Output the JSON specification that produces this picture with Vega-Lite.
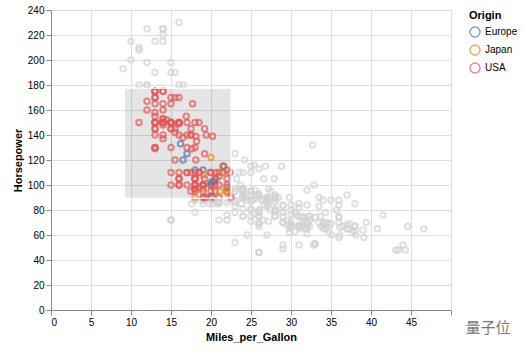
{
  "$schema": "https://vega.github.io/schema/vega-lite/v6.json",
  "width": 400,
  "height": 300,
  "padding": {"left": 12, "top": 5, "right": 5, "bottom": 5},
  "config": {"font": "Liberation Sans"},
  "datasets": {
    "cars": [
      {"mpg":18,"hp":130,"Origin":"USA"},{"mpg":15,"hp":165,"Origin":"USA"},{"mpg":18,"hp":150,"Origin":"USA"},{"mpg":16,"hp":150,"Origin":"USA"},{"mpg":17,"hp":140,"Origin":"USA"},{"mpg":15,"hp":198,"Origin":"USA"},{"mpg":14,"hp":220,"Origin":"USA"},{"mpg":14,"hp":215,"Origin":"USA"},{"mpg":14,"hp":225,"Origin":"USA"},{"mpg":15,"hp":190,"Origin":"USA"},{"mpg":15,"hp":170,"Origin":"USA"},{"mpg":14,"hp":160,"Origin":"USA"},{"mpg":15,"hp":150,"Origin":"USA"},{"mpg":14,"hp":225,"Origin":"USA"},{"mpg":24,"hp":95,"Origin":"Japan"},{"mpg":22,"hp":95,"Origin":"USA"},{"mpg":18,"hp":97,"Origin":"USA"},{"mpg":21,"hp":85,"Origin":"USA"},{"mpg":27,"hp":88,"Origin":"Japan"},{"mpg":26,"hp":46,"Origin":"Europe"},{"mpg":25,"hp":87,"Origin":"Europe"},{"mpg":24,"hp":90,"Origin":"Europe"},{"mpg":25,"hp":95,"Origin":"Europe"},{"mpg":26,"hp":113,"Origin":"Europe"},{"mpg":21,"hp":90,"Origin":"USA"},{"mpg":10,"hp":215,"Origin":"USA"},{"mpg":10,"hp":200,"Origin":"USA"},{"mpg":11,"hp":210,"Origin":"USA"},{"mpg":9,"hp":193,"Origin":"USA"},
      {"mpg":27,"hp":88,"Origin":"Japan"},{"mpg":28,"hp":90,"Origin":"USA"},{"mpg":25,"hp":95,"Origin":"Japan"},{"mpg":19,"hp":100,"Origin":"USA"},{"mpg":16,"hp":105,"Origin":"USA"},{"mpg":17,"hp":100,"Origin":"USA"},{"mpg":19,"hp":88,"Origin":"USA"},{"mpg":18,"hp":100,"Origin":"USA"},{"mpg":14,"hp":165,"Origin":"USA"},{"mpg":14,"hp":175,"Origin":"USA"},{"mpg":14,"hp":153,"Origin":"USA"},{"mpg":14,"hp":150,"Origin":"USA"},{"mpg":12,"hp":180,"Origin":"USA"},{"mpg":13,"hp":170,"Origin":"USA"},{"mpg":13,"hp":175,"Origin":"USA"},{"mpg":18,"hp":110,"Origin":"USA"},{"mpg":22,"hp":72,"Origin":"USA"},{"mpg":19,"hp":100,"Origin":"USA"},{"mpg":18,"hp":88,"Origin":"USA"},{"mpg":23,"hp":86,"Origin":"USA"},{"mpg":28,"hp":90,"Origin":"Europe"},{"mpg":30,"hp":70,"Origin":"Europe"},{"mpg":30,"hp":76,"Origin":"Europe"},{"mpg":31,"hp":65,"Origin":"Japan"},{"mpg":35,"hp":69,"Origin":"Japan"},{"mpg":27,"hp":60,"Origin":"Europe"},{"mpg":26,"hp":70,"Origin":"USA"},
      {"mpg":24,"hp":95,"Origin":"Japan"},{"mpg":25,"hp":80,"Origin":"USA"},{"mpg":23,"hp":54,"Origin":"Europe"},{"mpg":20,"hp":90,"Origin":"USA"},{"mpg":21,"hp":86,"Origin":"USA"},{"mpg":13,"hp":165,"Origin":"USA"},{"mpg":14,"hp":175,"Origin":"USA"},{"mpg":15,"hp":150,"Origin":"USA"},{"mpg":14,"hp":153,"Origin":"USA"},{"mpg":17,"hp":150,"Origin":"USA"},{"mpg":11,"hp":208,"Origin":"USA"},{"mpg":13,"hp":155,"Origin":"USA"},{"mpg":12,"hp":160,"Origin":"USA"},{"mpg":13,"hp":190,"Origin":"USA"},{"mpg":19,"hp":97,"Origin":"Japan"},{"mpg":15,"hp":150,"Origin":"USA"},{"mpg":13,"hp":130,"Origin":"USA"},{"mpg":13,"hp":140,"Origin":"USA"},{"mpg":14,"hp":150,"Origin":"USA"},{"mpg":18,"hp":112,"Origin":"Europe"},{"mpg":22,"hp":76,"Origin":"Europe"},{"mpg":21,"hp":87,"Origin":"Europe"},{"mpg":26,"hp":69,"Origin":"Europe"},{"mpg":22,"hp":86,"Origin":"USA"},{"mpg":28,"hp":92,"Origin":"Japan"},{"mpg":23,"hp":97,"Origin":"Japan"},{"mpg":28,"hp":80,"Origin":"USA"},{"mpg":27,"hp":88,"Origin":"Japan"},
      {"mpg":13,"hp":175,"Origin":"USA"},{"mpg":14,"hp":150,"Origin":"USA"},{"mpg":13,"hp":145,"Origin":"USA"},{"mpg":14,"hp":137,"Origin":"USA"},{"mpg":15,"hp":150,"Origin":"USA"},{"mpg":12,"hp":198,"Origin":"USA"},{"mpg":13,"hp":150,"Origin":"USA"},{"mpg":13,"hp":158,"Origin":"USA"},{"mpg":14,"hp":150,"Origin":"USA"},{"mpg":13,"hp":215,"Origin":"USA"},{"mpg":12,"hp":225,"Origin":"USA"},{"mpg":13,"hp":175,"Origin":"USA"},{"mpg":18,"hp":105,"Origin":"USA"},{"mpg":16,"hp":100,"Origin":"USA"},{"mpg":18,"hp":100,"Origin":"USA"},{"mpg":18,"hp":88,"Origin":"USA"},{"mpg":23,"hp":95,"Origin":"USA"},{"mpg":26,"hp":46,"Origin":"Europe"},{"mpg":11,"hp":150,"Origin":"USA"},{"mpg":12,"hp":167,"Origin":"USA"},{"mpg":13,"hp":170,"Origin":"USA"},{"mpg":12,"hp":180,"Origin":"USA"},{"mpg":18,"hp":100,"Origin":"USA"},{"mpg":20,"hp":88,"Origin":"Japan"},{"mpg":21,"hp":72,"Origin":"USA"},{"mpg":22,"hp":94,"Origin":"Japan"},{"mpg":18,"hp":90,"Origin":"Japan"},{"mpg":19,"hp":85,"Origin":"USA"},{"mpg":21,"hp":107,"Origin":"USA"},{"mpg":26,"hp":90,"Origin":"Europe"},{"mpg":15,"hp":145,"Origin":"USA"},{"mpg":16,"hp":230,"Origin":"USA"},{"mpg":29,"hp":49,"Origin":"Europe"},{"mpg":24,"hp":75,"Origin":"Europe"},{"mpg":20,"hp":91,"Origin":"Europe"},{"mpg":19,"hp":112,"Origin":"Europe"},{"mpg":15,"hp":150,"Origin":"USA"},{"mpg":24,"hp":110,"Origin":"Europe"},{"mpg":20,"hp":122,"Origin":"Japan"},{"mpg":11,"hp":180,"Origin":"USA"},
      {"mpg":20,"hp":95,"Origin":"USA"},{"mpg":21,"hp":100,"Origin":"USA"},{"mpg":19,"hp":100,"Origin":"USA"},{"mpg":15,"hp":100,"Origin":"USA"},{"mpg":31,"hp":67,"Origin":"Japan"},{"mpg":26,"hp":80,"Origin":"USA"},{"mpg":32,"hp":65,"Origin":"Japan"},{"mpg":25,"hp":75,"Origin":"USA"},{"mpg":16,"hp":100,"Origin":"USA"},{"mpg":16,"hp":110,"Origin":"USA"},{"mpg":18,"hp":105,"Origin":"USA"},{"mpg":16,"hp":140,"Origin":"USA"},{"mpg":13,"hp":150,"Origin":"USA"},{"mpg":14,"hp":150,"Origin":"USA"},{"mpg":14,"hp":140,"Origin":"USA"},{"mpg":14,"hp":150,"Origin":"USA"},{"mpg":29,"hp":83,"Origin":"Europe"},{"mpg":26,"hp":67,"Origin":"Europe"},{"mpg":26,"hp":78,"Origin":"Europe"},{"mpg":31,"hp":52,"Origin":"Japan"},{"mpg":32,"hp":61,"Origin":"Japan"},{"mpg":28,"hp":75,"Origin":"USA"},{"mpg":24,"hp":75,"Origin":"Europe"},{"mpg":26,"hp":75,"Origin":"Europe"},{"mpg":24,"hp":97,"Origin":"Japan"},{"mpg":26,"hp":93,"Origin":"Japan"},{"mpg":31,"hp":67,"Origin":"Europe"},
      {"mpg":19,"hp":95,"Origin":"USA"},{"mpg":18,"hp":105,"Origin":"USA"},{"mpg":15,"hp":72,"Origin":"USA"},{"mpg":15,"hp":72,"Origin":"USA"},{"mpg":16,"hp":170,"Origin":"USA"},{"mpg":15,"hp":145,"Origin":"USA"},{"mpg":16,"hp":150,"Origin":"USA"},{"mpg":14,"hp":148,"Origin":"USA"},{"mpg":17,"hp":110,"Origin":"USA"},{"mpg":16,"hp":105,"Origin":"USA"},{"mpg":15,"hp":110,"Origin":"USA"},{"mpg":18,"hp":95,"Origin":"USA"},{"mpg":21,"hp":110,"Origin":"USA"},{"mpg":20,"hp":110,"Origin":"USA"},{"mpg":13,"hp":129,"Origin":"USA"},{"mpg":29,"hp":75,"Origin":"Japan"},{"mpg":23,"hp":83,"Origin":"USA"},{"mpg":20,"hp":100,"Origin":"USA"},{"mpg":23,"hp":78,"Origin":"USA"},{"mpg":24,"hp":96,"Origin":"Japan"},{"mpg":25,"hp":71,"Origin":"Europe"},{"mpg":24,"hp":97,"Origin":"Japan"},{"mpg":18,"hp":97,"Origin":"USA"},{"mpg":29,"hp":70,"Origin":"Europe"},{"mpg":19,"hp":90,"Origin":"USA"},{"mpg":23,"hp":95,"Origin":"Europe"},{"mpg":23,"hp":88,"Origin":"Europe"},{"mpg":22,"hp":98,"Origin":"Europe"},{"mpg":25,"hp":115,"Origin":"Europe"},{"mpg":33,"hp":53,"Origin":"Japan"},{"mpg":28,"hp":86,"Origin":"Europe"},{"mpg":25,"hp":81,"Origin":"Europe"},{"mpg":25,"hp":92,"Origin":"USA"},{"mpg":26,"hp":79,"Origin":"USA"},{"mpg":27,"hp":83,"Origin":"Europe"},
      {"mpg":17.5,"hp":140,"Origin":"USA"},{"mpg":16,"hp":150,"Origin":"USA"},{"mpg":15.5,"hp":120,"Origin":"USA"},{"mpg":14.5,"hp":152,"Origin":"USA"},{"mpg":22,"hp":100,"Origin":"USA"},{"mpg":22,"hp":105,"Origin":"USA"},{"mpg":24,"hp":81,"Origin":"USA"},{"mpg":22.5,"hp":90,"Origin":"USA"},{"mpg":29,"hp":52,"Origin":"USA"},{"mpg":24.5,"hp":60,"Origin":"USA"},{"mpg":29,"hp":70,"Origin":"Europe"},{"mpg":33,"hp":53,"Origin":"Japan"},{"mpg":20,"hp":100,"Origin":"USA"},{"mpg":18,"hp":78,"Origin":"USA"},{"mpg":18.5,"hp":110,"Origin":"USA"},{"mpg":17.5,"hp":95,"Origin":"USA"},{"mpg":29.5,"hp":71,"Origin":"Europe"},{"mpg":32,"hp":70,"Origin":"Japan"},{"mpg":28,"hp":75,"Origin":"Japan"},{"mpg":26.5,"hp":72,"Origin":"USA"},{"mpg":20,"hp":102,"Origin":"Europe"},{"mpg":13,"hp":150,"Origin":"USA"},{"mpg":19,"hp":88,"Origin":"Europe"},{"mpg":19,"hp":108,"Origin":"Japan"},{"mpg":16.5,"hp":120,"Origin":"Europe"},{"mpg":16.5,"hp":180,"Origin":"USA"},{"mpg":13,"hp":145,"Origin":"USA"},{"mpg":13,"hp":130,"Origin":"USA"},{"mpg":13,"hp":150,"Origin":"USA"},
      {"mpg":31.5,"hp":68,"Origin":"Japan"},{"mpg":30,"hp":80,"Origin":"USA"},{"mpg":36,"hp":58,"Origin":"Europe"},{"mpg":25.5,"hp":96,"Origin":"USA"},{"mpg":33.5,"hp":70,"Origin":"Japan"},{"mpg":17.5,"hp":145,"Origin":"USA"},{"mpg":17,"hp":110,"Origin":"USA"},{"mpg":15.5,"hp":145,"Origin":"USA"},{"mpg":15,"hp":130,"Origin":"USA"},{"mpg":17.5,"hp":110,"Origin":"USA"},{"mpg":20.5,"hp":105,"Origin":"USA"},{"mpg":19,"hp":100,"Origin":"USA"},{"mpg":18.5,"hp":98,"Origin":"USA"},{"mpg":16,"hp":180,"Origin":"USA"},{"mpg":15.5,"hp":170,"Origin":"USA"},{"mpg":15.5,"hp":190,"Origin":"USA"},{"mpg":16,"hp":149,"Origin":"USA"},{"mpg":29,"hp":78,"Origin":"Europe"},{"mpg":24.5,"hp":88,"Origin":"USA"},{"mpg":26,"hp":75,"Origin":"Japan"},{"mpg":25.5,"hp":89,"Origin":"USA"},{"mpg":30.5,"hp":63,"Origin":"USA"},{"mpg":33.5,"hp":83,"Origin":"USA"},{"mpg":30,"hp":67,"Origin":"Japan"},{"mpg":30.5,"hp":78,"Origin":"Europe"},{"mpg":22,"hp":97,"Origin":"Japan"},{"mpg":21.5,"hp":110,"Origin":"Europe"},{"mpg":21.5,"hp":110,"Origin":"Japan"},
      {"mpg":43.1,"hp":48,"Origin":"Europe"},{"mpg":36.1,"hp":66,"Origin":"USA"},{"mpg":32.8,"hp":52,"Origin":"Japan"},{"mpg":39.4,"hp":70,"Origin":"Japan"},{"mpg":36.1,"hp":60,"Origin":"Japan"},{"mpg":19.9,"hp":110,"Origin":"USA"},{"mpg":19.4,"hp":140,"Origin":"USA"},{"mpg":20.2,"hp":139,"Origin":"USA"},{"mpg":19.2,"hp":105,"Origin":"USA"},{"mpg":20.5,"hp":95,"Origin":"USA"},{"mpg":20.2,"hp":85,"Origin":"USA"},{"mpg":25.1,"hp":88,"Origin":"USA"},{"mpg":20.5,"hp":100,"Origin":"USA"},{"mpg":19.4,"hp":90,"Origin":"USA"},{"mpg":20.6,"hp":105,"Origin":"USA"},{"mpg":20.8,"hp":85,"Origin":"USA"},{"mpg":18.6,"hp":110,"Origin":"USA"},{"mpg":18.1,"hp":120,"Origin":"USA"},{"mpg":19.2,"hp":145,"Origin":"USA"},{"mpg":17.7,"hp":165,"Origin":"USA"},{"mpg":18.1,"hp":139,"Origin":"USA"},{"mpg":17.5,"hp":140,"Origin":"USA"},{"mpg":30,"hp":68,"Origin":"USA"},{"mpg":27.5,"hp":95,"Origin":"Japan"},{"mpg":27.2,"hp":97,"Origin":"Japan"},{"mpg":30.9,"hp":75,"Origin":"USA"},{"mpg":21.1,"hp":95,"Origin":"Japan"},{"mpg":23.2,"hp":105,"Origin":"Japan"},{"mpg":23.8,"hp":85,"Origin":"USA"},{"mpg":23.9,"hp":97,"Origin":"Japan"},{"mpg":20.3,"hp":103,"Origin":"Europe"},{"mpg":17,"hp":125,"Origin":"Europe"},{"mpg":21.6,"hp":115,"Origin":"Europe"},{"mpg":16.2,"hp":133,"Origin":"Europe"},{"mpg":31.5,"hp":71,"Origin":"Europe"},{"mpg":29.5,"hp":68,"Origin":"Japan"},
      {"mpg":21.5,"hp":115,"Origin":"USA"},{"mpg":19.8,"hp":85,"Origin":"USA"},{"mpg":22.3,"hp":88,"Origin":"USA"},{"mpg":20.2,"hp":90,"Origin":"USA"},{"mpg":20.6,"hp":110,"Origin":"USA"},{"mpg":17,"hp":130,"Origin":"USA"},{"mpg":17.6,"hp":129,"Origin":"USA"},{"mpg":16.5,"hp":138,"Origin":"USA"},{"mpg":18.2,"hp":135,"Origin":"USA"},{"mpg":16.9,"hp":155,"Origin":"USA"},{"mpg":15.5,"hp":142,"Origin":"USA"},{"mpg":19.2,"hp":125,"Origin":"USA"},{"mpg":18.5,"hp":150,"Origin":"USA"},{"mpg":31.9,"hp":71,"Origin":"Europe"},{"mpg":34.1,"hp":65,"Origin":"Japan"},{"mpg":35.7,"hp":80,"Origin":"USA"},{"mpg":27.4,"hp":80,"Origin":"USA"},{"mpg":25.4,"hp":77,"Origin":"Europe"},{"mpg":23,"hp":125,"Origin":"USA"},{"mpg":27.2,"hp":71,"Origin":"Europe"},{"mpg":23.9,"hp":90,"Origin":"USA"},{"mpg":34.2,"hp":70,"Origin":"USA"},{"mpg":34.5,"hp":70,"Origin":"USA"},{"mpg":31.8,"hp":65,"Origin":"Japan"},{"mpg":37.3,"hp":69,"Origin":"Europe"},{"mpg":28.4,"hp":90,"Origin":"USA"},{"mpg":28.8,"hp":115,"Origin":"USA"},{"mpg":26.8,"hp":115,"Origin":"USA"},{"mpg":33.5,"hp":90,"Origin":"USA"},
      {"mpg":41.5,"hp":76,"Origin":"Europe"},{"mpg":38.1,"hp":60,"Origin":"Japan"},{"mpg":32.1,"hp":70,"Origin":"USA"},{"mpg":37.2,"hp":65,"Origin":"Japan"},{"mpg":28,"hp":90,"Origin":"USA"},{"mpg":26.4,"hp":88,"Origin":"USA"},{"mpg":24.3,"hp":90,"Origin":"USA"},{"mpg":19.1,"hp":90,"Origin":"USA"},{"mpg":34.3,"hp":78,"Origin":"Europe"},{"mpg":29.8,"hp":90,"Origin":"Japan"},{"mpg":31.3,"hp":75,"Origin":"Japan"},{"mpg":37,"hp":92,"Origin":"Japan"},{"mpg":32.2,"hp":75,"Origin":"Japan"},{"mpg":46.6,"hp":65,"Origin":"Japan"},{"mpg":27.9,"hp":105,"Origin":"USA"},{"mpg":40.8,"hp":65,"Origin":"Japan"},{"mpg":44.3,"hp":48,"Origin":"Europe"},{"mpg":43.4,"hp":48,"Origin":"Europe"},{"mpg":36.4,"hp":67,"Origin":"Europe"},{"mpg":30,"hp":67,"Origin":"Europe"},{"mpg":44.6,"hp":67,"Origin":"Japan"},{"mpg":33.8,"hp":67,"Origin":"Japan"},{"mpg":29.8,"hp":62,"Origin":"Europe"},{"mpg":32.7,"hp":132,"Origin":"Japan"},{"mpg":23.7,"hp":100,"Origin":"Japan"},{"mpg":35,"hp":88,"Origin":"Europe"},{"mpg":32.4,"hp":72,"Origin":"Japan"},
      {"mpg":27.2,"hp":84,"Origin":"USA"},{"mpg":26.6,"hp":84,"Origin":"USA"},{"mpg":25.8,"hp":92,"Origin":"USA"},{"mpg":23.5,"hp":110,"Origin":"USA"},{"mpg":30,"hp":84,"Origin":"USA"},{"mpg":39.1,"hp":58,"Origin":"Japan"},{"mpg":39,"hp":64,"Origin":"USA"},{"mpg":35.1,"hp":60,"Origin":"Japan"},{"mpg":32.3,"hp":67,"Origin":"Japan"},{"mpg":37,"hp":65,"Origin":"Japan"},{"mpg":37.7,"hp":62,"Origin":"Japan"},{"mpg":34.1,"hp":68,"Origin":"Japan"},{"mpg":34.7,"hp":63,"Origin":"USA"},{"mpg":34.4,"hp":65,"Origin":"USA"},{"mpg":29.9,"hp":65,"Origin":"USA"},{"mpg":33,"hp":74,"Origin":"Europe"},{"mpg":33.7,"hp":75,"Origin":"Japan"},{"mpg":32.4,"hp":75,"Origin":"Japan"},{"mpg":32.9,"hp":100,"Origin":"Japan"},{"mpg":31.6,"hp":74,"Origin":"Japan"},{"mpg":28.1,"hp":80,"Origin":"Europe"},{"mpg":30.7,"hp":76,"Origin":"Europe"},{"mpg":25.4,"hp":116,"Origin":"Japan"},{"mpg":24.2,"hp":120,"Origin":"Japan"},{"mpg":22.4,"hp":110,"Origin":"USA"},{"mpg":26.6,"hp":105,"Origin":"USA"},{"mpg":20.2,"hp":88,"Origin":"USA"},{"mpg":17.6,"hp":85,"Origin":"USA"},
      {"mpg":28,"hp":88,"Origin":"USA"},{"mpg":27,"hp":88,"Origin":"USA"},{"mpg":34,"hp":88,"Origin":"USA"},{"mpg":31,"hp":85,"Origin":"USA"},{"mpg":29,"hp":84,"Origin":"USA"},{"mpg":27,"hp":90,"Origin":"USA"},{"mpg":24,"hp":92,"Origin":"USA"},{"mpg":36,"hp":74,"Origin":"Europe"},{"mpg":37,"hp":68,"Origin":"Japan"},{"mpg":31,"hp":68,"Origin":"Japan"},{"mpg":38,"hp":63,"Origin":"USA"},{"mpg":36,"hp":70,"Origin":"USA"},{"mpg":36,"hp":88,"Origin":"Japan"},{"mpg":36,"hp":75,"Origin":"Japan"},{"mpg":34,"hp":70,"Origin":"Japan"},{"mpg":38,"hp":67,"Origin":"Japan"},{"mpg":32,"hp":67,"Origin":"Japan"},{"mpg":38,"hp":67,"Origin":"Japan"},{"mpg":25,"hp":110,"Origin":"USA"},{"mpg":38,"hp":85,"Origin":"USA"},{"mpg":26,"hp":92,"Origin":"USA"},{"mpg":22,"hp":112,"Origin":"USA"},{"mpg":32,"hp":96,"Origin":"Japan"},{"mpg":36,"hp":84,"Origin":"USA"},{"mpg":27,"hp":90,"Origin":"USA"},{"mpg":27,"hp":86,"Origin":"USA"},{"mpg":44,"hp":52,"Origin":"Europe"},{"mpg":32,"hp":84,"Origin":"USA"},{"mpg":28,"hp":79,"Origin":"USA"},{"mpg":31,"hp":82,"Origin":"USA"}
    ]
  },
  "data": {"name": "cars"},
  "layer": [
    {
      "params": [
        {
          "name": "brush",
          "select": {"type": "interval"},
          "value": {"x": [9.2, 22.5], "y": [89.4, 177.4]}
        }
      ],
      "mark": "point",
      "encoding": {
        "x": {"field": "mpg", "type": "quantitative", "title": "Miles_per_Gallon", "scale": {"domain": [0, 50]}, "axis": {"labelExpr": "datum.value == 50 ? '' : datum.label"}},
        "y": {"field": "hp", "type": "quantitative", "title": "Horsepower", "scale": {"domain": [0, 240]}},
        "color": {
          "condition": {"param": "brush", "field": "Origin", "type": "nominal"},
          "value": "lightgray"
        }
      }
    },
    {
      "data": {"values": [{"mark_text": "量子位"}]},
      "mark": {"type": "text", "font": "Noto Sans CJK SC", "fontSize": 15, "color": "#777777", "align": "left", "baseline": "middle"},
      "encoding": {
        "text": {"field": "mark_text", "type": "nominal"},
        "x": {"datum": 51.8},
        "y": {"datum": -14.4}
      }
    }
  ]
}
